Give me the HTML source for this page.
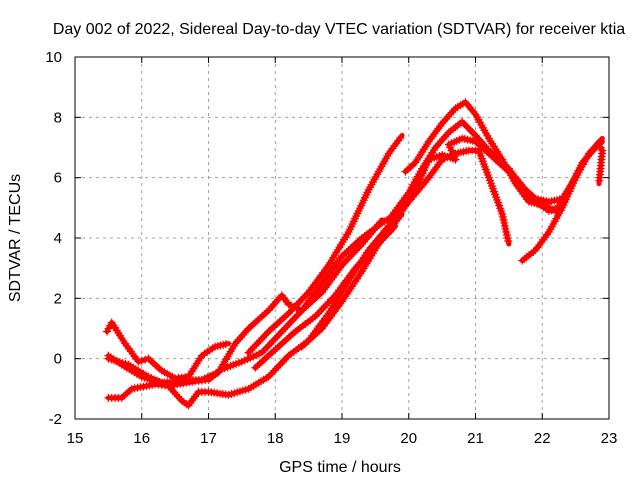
<!DOCTYPE html>
<html><head><meta charset="utf-8"><style>
body{margin:0;background:#fff;}
svg{display:block;font-family:"Liberation Sans",sans-serif;}
</style></head><body>
<svg id="chart" width="640" height="480" viewBox="0 0 640 480">
<rect width="640" height="480" fill="#fff"/>
<text x="339" y="34" font-size="16" text-anchor="middle">Day 002 of 2022, Sidereal Day-to-day VTEC variation (SDTVAR) for receiver ktia</text>
<text x="340" y="472" font-size="16" text-anchor="middle">GPS time / hours</text>
<text transform="translate(20,238) rotate(-90)" font-size="16" text-anchor="middle">SDTVAR / TECUs</text>
<g id="grid"></g>
<g id="ticks"></g>
<g id="series"></g>
<rect x="75" y="57" width="534" height="362" fill="none" stroke="#000" stroke-width="1"/>
</svg>
<script>
const xTicks=[15,16,17,18,19,20,21,22,23];
const yTicks=[-2,0,2,4,6,8,10];
const track1=[[17.6,0.2],[17.9,0.9],[18.2,1.5],[18.5,2.2],[18.8,3.1],[19.1,4.2],[19.4,5.6],[19.7,6.8],[19.9,7.4]];
const track2=[[15.48,0.9],[15.55,1.2],[15.75,0.5],[15.95,-0.1],[16.1,0.0],[16.3,-0.4],[16.5,-0.65],[16.7,-0.6],[16.9,0.1],[17.1,0.4],[17.3,0.5]];
const track3=[[15.5,0.1],[15.7,-0.2],[16.0,-0.6],[16.3,-0.8],[16.55,-0.75],[16.9,-0.7],[17.15,-0.45],[17.4,0.5],[17.6,1.0],[17.9,1.6],[18.1,2.1],[18.2,1.8],[18.4,1.6],[18.7,2.2],[19.0,3.1],[19.3,3.8],[19.6,4.6]];
const track4=[[15.5,-1.3],[15.7,-1.3],[15.85,-1.0],[16.2,-0.85],[16.4,-0.9],[16.6,-1.4],[16.7,-1.55],[16.85,-1.1],[17.0,-1.1],[17.3,-1.2],[17.6,-1.0],[17.9,-0.6],[18.2,0.1],[18.5,0.6],[18.8,1.5],[19.1,2.6],[19.4,3.6],[19.7,4.4],[20.0,5.2],[20.3,6.0],[20.5,6.6],[20.7,6.8],[20.9,6.9],[21.05,6.9],[21.2,6.0],[21.4,4.8],[21.5,3.8]];
const track5=[[15.5,0.0],[15.8,-0.2],[16.1,-0.6],[16.4,-0.9],[16.8,-0.75],[17.0,-0.7],[17.2,-0.35],[17.5,-0.1],[17.8,0.2],[18.1,0.9],[18.4,1.6],[18.7,2.5],[19.0,3.4],[19.3,4.0],[19.6,4.5],[19.9,4.9],[20.1,5.6],[20.3,6.6],[20.5,6.75],[20.7,6.6],[20.6,7.1],[20.8,7.3],[21.0,7.2],[21.3,6.6],[21.6,6.0],[21.9,5.2],[22.1,4.9],[22.3,5.0]];
const track6=[[19.95,6.2],[20.1,6.5],[20.3,7.2],[20.5,7.8],[20.7,8.3],[20.85,8.5],[21.0,8.1],[21.2,7.3],[21.4,6.6],[21.6,5.8],[21.8,5.2],[22.0,5.1],[22.2,4.9],[22.4,5.6],[22.6,6.5],[22.8,7.0],[22.9,7.2]];
const track7=[[19.7,4.6],[20.0,5.5],[20.2,6.3],[20.4,7.0],[20.6,7.5],[20.8,7.85],[21.0,7.4],[21.2,6.9],[21.5,6.3],[21.7,5.7],[21.9,5.3],[22.1,5.2],[22.3,5.3],[22.5,6.0],[22.7,6.8],[22.85,7.1],[22.9,6.9],[22.85,5.8]];
const track8=[[18.4,0.4],[18.7,1.0],[19.0,1.9],[19.3,2.9],[19.6,4.0],[19.9,4.8]];
const track9=[[21.7,3.25],[21.9,3.6],[22.1,4.2],[22.3,5.0],[22.5,6.0],[22.7,6.8],[22.9,7.3]];
const track10=[[17.7,-0.3],[18.0,0.3],[18.3,0.9],[18.6,1.4],[18.9,2.1],[19.2,3.0],[19.5,3.7],[19.8,4.4]];
const tracks=[track1,track2,track3,track4,track5,track6,track7,track8,track9,track10];

const X=h=>75+(h-15)*(534/8);
const Y=v=>57+(10-v)*(362/12);
const NS="http://www.w3.org/2000/svg";
const grid=document.getElementById('grid'),ticks=document.getElementById('ticks'),ser=document.getElementById('series');
function mk(tag,attrs,parent){const e=document.createElementNS(NS,tag);for(const k in attrs)e.setAttribute(k,attrs[k]);parent.appendChild(e);return e;}
xTicks.forEach((t,i)=>{
  const x=X(t);
  if(i>0&&i<xTicks.length-1){const g=mk('line',{x1:x,x2:x,y1:57,y2:419,stroke:'#a0a0a0','stroke-dasharray':'3,4'},grid);
  
  }
  mk('line',{x1:x,x2:x,y1:419,y2:413,stroke:'#000'},ticks);mk('line',{x1:x,x2:x,y1:57,y2:63,stroke:'#000'},ticks);
  const l=mk('text',{x:x,y:443,'font-size':15,'text-anchor':'middle'},ticks);l.textContent=t;
  
  
});
yTicks.forEach((t,i)=>{
  const y=Y(t);
  if(i>0&&i<yTicks.length-1){const g=mk('line',{x1:75,x2:609,y1:y,y2:y,stroke:'#a0a0a0','stroke-dasharray':'3,4'},grid);
  
  }
  mk('line',{x1:75,x2:81,y1:y,y2:y,stroke:'#000'},ticks);mk('line',{x1:609,x2:603,y1:y,y2:y,stroke:'#000'},ticks);
  const l=mk('text',{x:62,y:y+5,'font-size':15,'text-anchor':'end'},ticks);l.textContent=t;
  
  
});
tracks.forEach((tr,ti)=>{
  const pts=tr.map(p=>X(p[0])+','+Y(p[1])).join(' ');
  const pl=mk('polyline',{points:pts,fill:'none',stroke:'#ff0000','stroke-width':5,'stroke-linejoin':'round','stroke-linecap':'round'},ser);
  
  
  let d='';
  for(let i=0;i<tr.length-1;i++){
    const x0=X(tr[i][0]),y0=Y(tr[i][1]),x1=X(tr[i+1][0]),y1=Y(tr[i+1][1]);
    const n=Math.max(1,Math.round(Math.hypot(x1-x0,y1-y0)/3));
    for(let k=0;k<n;k++){const x=x0+(x1-x0)*k/n,y=y0+(y1-y0)*k/n;d+=`M${x-4},${y}h8M${x},${y-4}v8`;}
  }
  const m=mk('path',{d:d,stroke:'#ff0000','stroke-width':1.2,fill:'none'},ser);
  
  
});
</script>
</body></html>
